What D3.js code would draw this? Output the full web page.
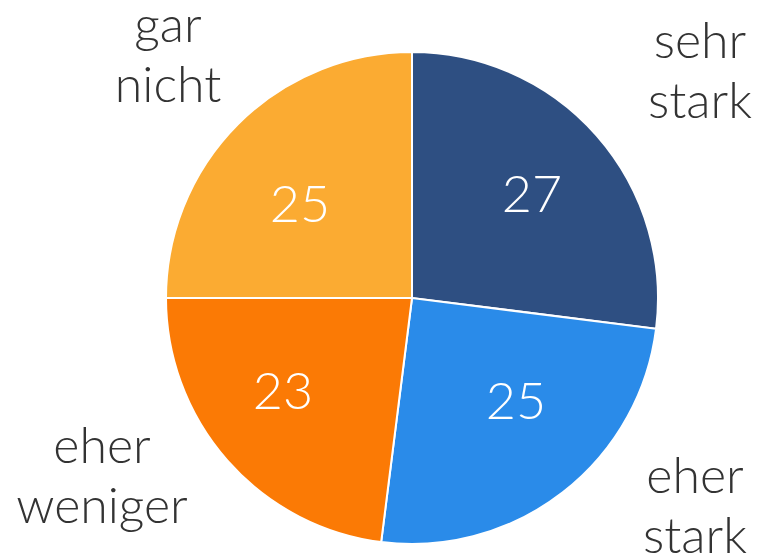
<!DOCTYPE html>
<meta charset="utf-8">
<script src="https://d3js.org/d3.v7.min.js"></script>
<style>
  body { margin: 0; background: #fff; }
  text { font-family: Lato, sans-serif; font-weight: 300; }
  text.outer { font-size: 50px; fill: #333; text-anchor: middle; }
  text.value { font-size: 52px; fill: #fff; text-anchor: middle; }
</style>
<div id="chart"></div>
<script>
// data
var categories = ["sehr stark", "eher stark", "eher weniger", "gar nicht"];
var values = [27, 25, 23, 25];
var colors = ["#2e4f82", "#2a8be9", "#fb7a05", "#fbab32"];

var width = 763, height = 558;
var cx = 412, cy = 298, r = 246;

// where the texts sit, relative to the centre
var valuePos = [[120, -105], [104, 102], [-129, 92], [-112, -95]];
var labelPos = [[288, -240], [283, 195], [-310, 165], [-244, -256]];

var svg = d3.select("#chart").append("svg")
    .attr("width", width)
    .attr("height", height)
  .append("g")
    .attr("transform", "translate(" + cx + "," + cy + ")");

var pie = d3.pie().sort(null).value(function(d) { return d; });
var arc = d3.arc().innerRadius(0).outerRadius(r);

var arcs = pie(values);

svg.selectAll("path")
  .data(arcs)
  .enter()
  .append("path")
    .attr("d", arc)
    .attr("fill", function(d, i) { return colors[i]; })
    .attr("stroke", "#fff")
    .attr("stroke-width", 2);

svg.selectAll("text.value")
  .data(arcs)
  .enter()
  .append("text")
    .attr("class", "value")
    .attr("x", function(d, i) { return valuePos[i][0]; })
    .attr("y", function(d, i) { return valuePos[i][1]; })
    .attr("dy", "0.36em")
    .text(function(d) { return d.data; });

var lbl = svg.selectAll("text.outer")
  .data(categories)
  .enter()
  .append("text")
    .attr("class", "outer")
    .attr("transform", function(d, i) { return "translate(" + labelPos[i][0] + "," + labelPos[i][1] + ")"; });

lbl.selectAll("tspan")
  .data(function(d) { return d.split(" "); })
  .enter()
  .append("tspan")
    .attr("x", 0)
    .attr("y", function(d, j) { return j * 60; })
    .text(function(d) { return d; });
</script>
